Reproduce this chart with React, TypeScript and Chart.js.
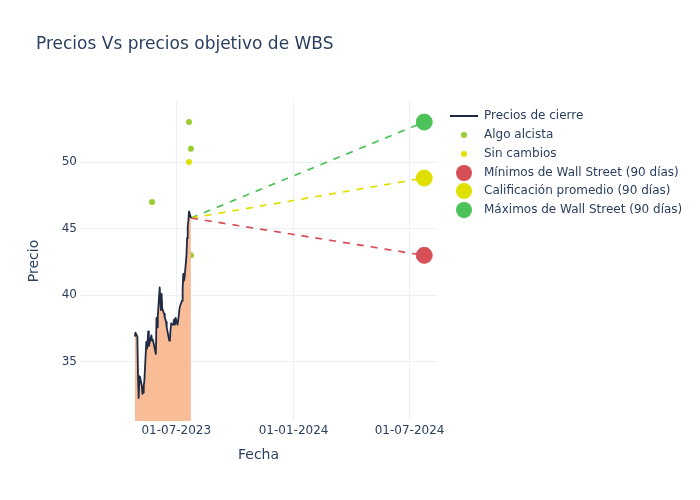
import React, { useEffect, useRef } from "react";
import { Chart, registerables } from "chart.js";

Chart.register(...registerables);

// ---- Data ----
const priceDates = [
  "2023-04-27", "2023-04-28", "2023-05-01", "2023-05-02", "2023-05-03", "2023-05-04", "2023-05-05",
  "2023-05-08", "2023-05-09", "2023-05-10", "2023-05-11", "2023-05-12",
  "2023-05-15", "2023-05-16", "2023-05-17", "2023-05-18", "2023-05-19",
  "2023-05-22", "2023-05-23", "2023-05-24", "2023-05-25", "2023-05-26",
  "2023-05-30", "2023-05-31", "2023-06-01", "2023-06-02",
  "2023-06-05", "2023-06-06", "2023-06-07", "2023-06-08", "2023-06-09",
  "2023-06-12", "2023-06-13", "2023-06-14", "2023-06-15", "2023-06-16",
  "2023-06-20", "2023-06-21", "2023-06-22", "2023-06-23",
  "2023-06-26", "2023-06-27", "2023-06-28", "2023-06-29", "2023-06-30",
  "2023-07-03", "2023-07-05", "2023-07-06", "2023-07-07",
  "2023-07-10", "2023-07-11", "2023-07-12", "2023-07-13", "2023-07-14",
  "2023-07-17", "2023-07-18", "2023-07-19", "2023-07-20", "2023-07-21",
  "2023-07-24",
];
const priceValues = [
  36.9, 37.2, 36.9, 34.0, 32.3, 33.6, 33.9,
  33.2, 32.6, 32.7, 33.2, 33.6,
  36.5, 36.0, 36.5, 37.3, 36.2,
  36.8, 37.0, 36.6, 36.7, 36.5,
  35.6, 38.3, 37.6, 38.4,
  40.6, 39.6, 38.9, 40.1, 39.0,
  38.6, 38.3, 38.2, 38.0, 37.6,
  36.6, 36.7, 37.4, 37.9,
  37.8, 38.1, 38.2, 37.8, 38.3,
  37.8, 38.5, 39.0, 39.2,
  39.6, 40.5, 41.6, 41.1, 41.3,
  43.0, 44.3, 45.2, 45.6, 46.3,
  45.8,
];

const bullishDates = ["2023-05-24", "2023-07-21", "2023-07-24", "2023-07-24"];
const bullishValues = [47, 53, 51, 43];

const neutralDates = ["2023-07-21"];
const neutralValues = [50];

const targetStartDate = "2023-07-24";
const targetStartValue = 45.8;
const targetEndDate = "2024-07-24";
const targetLow = 43.0;
const targetAvg = 48.8;
const targetHigh = 53.0;

const xTickDates = ["2023-07-01", "2024-01-01", "2024-07-01"];
const xRangeDates = ["2023-01-31", "2024-08-13"];
const yRange = [30.57, 54.58];
const yTicks = [35, 40, 45, 50];

const legendLabels = [
  "Precios de cierre",
  "Algo alcista",
  "Sin cambios",
  "Mínimos de Wall Street (90 días)",
  "Calificación promedio (90 días)",
  "Máximos de Wall Street (90 días)",
];

const TITLE = "Precios Vs precios objetivo de WBS";

// ---- Styles ----
const FONT = "'DejaVu Sans', Verdana, sans-serif";
const TEXT = "#2a3f5f";
const GRID = "#ebf0f8";
const LINE_COLOR = "#1f2a44";
const FILL_COLOR = "#f8bc96";
const BULL_COLOR = "#9acd32";
const NEUTRAL_COLOR = "#e0e000";
const RED = "#d64f57";
const YELLOW = "#e0e000";
const GREEN = "#4cc35a";

const toMs = (s: string) => {
  const [y, m, d] = s.split("-").map(Number);
  return Date.UTC(y, m - 1, d);
};

const fmt = (v: number) => {
  const d = new Date(v);
  const dd = String(d.getUTCDate()).padStart(2, "0");
  const mm = String(d.getUTCMonth() + 1).padStart(2, "0");
  return `${dd}-${mm}-${d.getUTCFullYear()}`;
};

const overlayPlugin = {
  id: "overlay",
  afterDraw(chart: any) {
    const ctx = chart.ctx as CanvasRenderingContext2D;
    ctx.save();
    // Title
    ctx.fillStyle = TEXT;
    ctx.font = `17px ${FONT}`;
    ctx.textAlign = "left";
    ctx.textBaseline = "middle";
    ctx.fillText(TITLE, 36, 45);

    // Legend
    const area = chart.chartArea;
    const x0 = area.right + 13;
    const symX = x0 + 14;
    const textX = x0 + 34;
    const rowY = [115, 134, 153, 172, 190, 209].map((v) => v + 1);
    ctx.font = `12px ${FONT}`;
    legendLabels.forEach((label, i) => {
      const y = rowY[i];
      if (i === 0) {
        ctx.strokeStyle = LINE_COLOR;
        ctx.lineWidth = 2;
        ctx.beginPath();
        ctx.moveTo(x0, y);
        ctx.lineTo(x0 + 28, y);
        ctx.stroke();
      } else {
        const colors = [BULL_COLOR, NEUTRAL_COLOR, RED, YELLOW, GREEN];
        const radii = [3, 3, 8, 8, 8];
        ctx.fillStyle = colors[i - 1];
        ctx.beginPath();
        ctx.arc(symX, y, radii[i - 1], 0, Math.PI * 2);
        ctx.fill();
      }
      ctx.fillStyle = TEXT;
      ctx.fillText(label, textX, y);
    });
    ctx.restore();
  },
};

export default function App() {
  const ref = useRef<HTMLCanvasElement | null>(null);

  useEffect(() => {
    document.body.style.margin = "0";
    const canvas = ref.current;
    if (!canvas) return;

    const pricePts = priceDates.map((d, i) => ({ x: toMs(d), y: priceValues[i] }));
    const bullPts = bullishDates.map((d, i) => ({ x: toMs(d), y: bullishValues[i] }));
    const neutralPts = neutralDates.map((d, i) => ({ x: toMs(d), y: neutralValues[i] }));
    const targetLine = (v: number) => [
      { x: toMs(targetStartDate), y: targetStartValue },
      { x: toMs(targetEndDate), y: v },
    ];
    const targetDs = (v: number, color: string, label: string) => ({
      type: "line" as const,
      label,
      data: targetLine(v),
      borderColor: color,
      borderWidth: 1.7,
      borderDash: [7, 7],
      pointRadius: [0, 8],
      pointHoverRadius: [0, 8],
      pointBackgroundColor: color,
      pointBorderColor: color,
      pointBorderWidth: 1,
      fill: false,
    });

    const chart = new Chart(canvas, {
      type: "line",
      data: {
        datasets: [
          {
            type: "line",
            label: legendLabels[0],
            data: pricePts,
            borderColor: LINE_COLOR,
            borderWidth: 1.8,
            borderJoinStyle: "round",
            backgroundColor: FILL_COLOR,
            fill: "origin",
            pointRadius: 0,
            tension: 0,
          },
          targetDs(targetLow, RED, legendLabels[3]),
          targetDs(targetAvg, YELLOW, legendLabels[4]),
          targetDs(targetHigh, GREEN, legendLabels[5]),
          {
            type: "scatter",
            label: legendLabels[1],
            data: bullPts,
            showLine: false,
            pointRadius: 3,
            backgroundColor: BULL_COLOR,
            borderColor: BULL_COLOR,
            borderWidth: 0,
          },
          {
            type: "scatter",
            label: legendLabels[2],
            data: neutralPts,
            showLine: false,
            pointRadius: 3,
            backgroundColor: NEUTRAL_COLOR,
            borderColor: NEUTRAL_COLOR,
            borderWidth: 0,
          },
        ] as any,
      },
      options: {
        responsive: false,
        animation: false,
        layout: { padding: { top: 101, right: 263, bottom: 32, left: 22 } },
        plugins: {
          legend: { display: false },
          title: { display: false },
          tooltip: { enabled: false },
        },
        scales: {
          x: {
            type: "linear",
            min: toMs(xRangeDates[0]),
            max: toMs(xRangeDates[1]),
            afterBuildTicks: (scale: any) => {
              scale.ticks = xTickDates.map((d) => ({ value: toMs(d) }));
            },
            afterFit: (scale: any) => {
              scale.height = 47;
            },
            ticks: {
              callback: (v: any) => fmt(Number(v)),
              color: TEXT,
              font: { family: FONT, size: 12 },
              padding: 3,
              maxRotation: 0,
              autoSkip: false,
            },
            grid: { color: GRID, lineWidth: 1, drawTicks: false },
            border: { display: false },
            title: {
              display: true,
              text: "Fecha",
              color: TEXT,
              font: { family: FONT, size: 14 },
              padding: { top: 4, bottom: 4 },
            },
          },
          y: {
            type: "linear",
            min: yRange[0],
            max: yRange[1],
            afterBuildTicks: (scale: any) => {
              scale.ticks = yTicks.map((v) => ({ value: v }));
            },
            afterFit: (scale: any) => {
              scale.width = 58;
            },
            ticks: {
              color: TEXT,
              font: { family: FONT, size: 12 },
              padding: 3,
            },
            grid: { color: GRID, lineWidth: 1, drawTicks: false },
            border: { display: false },
            title: {
              display: true,
              text: "Precio",
              color: TEXT,
              font: { family: FONT, size: 14 },
              padding: { top: 4, bottom: 4 },
            },
          },
        },
      },
      plugins: [overlayPlugin],
    });

    return () => chart.destroy();
  }, []);

  return (
    <div style={{ position: "absolute", left: 0, top: 0, width: 700, height: 500, background: "#fff" }}>
      <canvas ref={ref} width={700} height={500} />
    </div>
  );
}
